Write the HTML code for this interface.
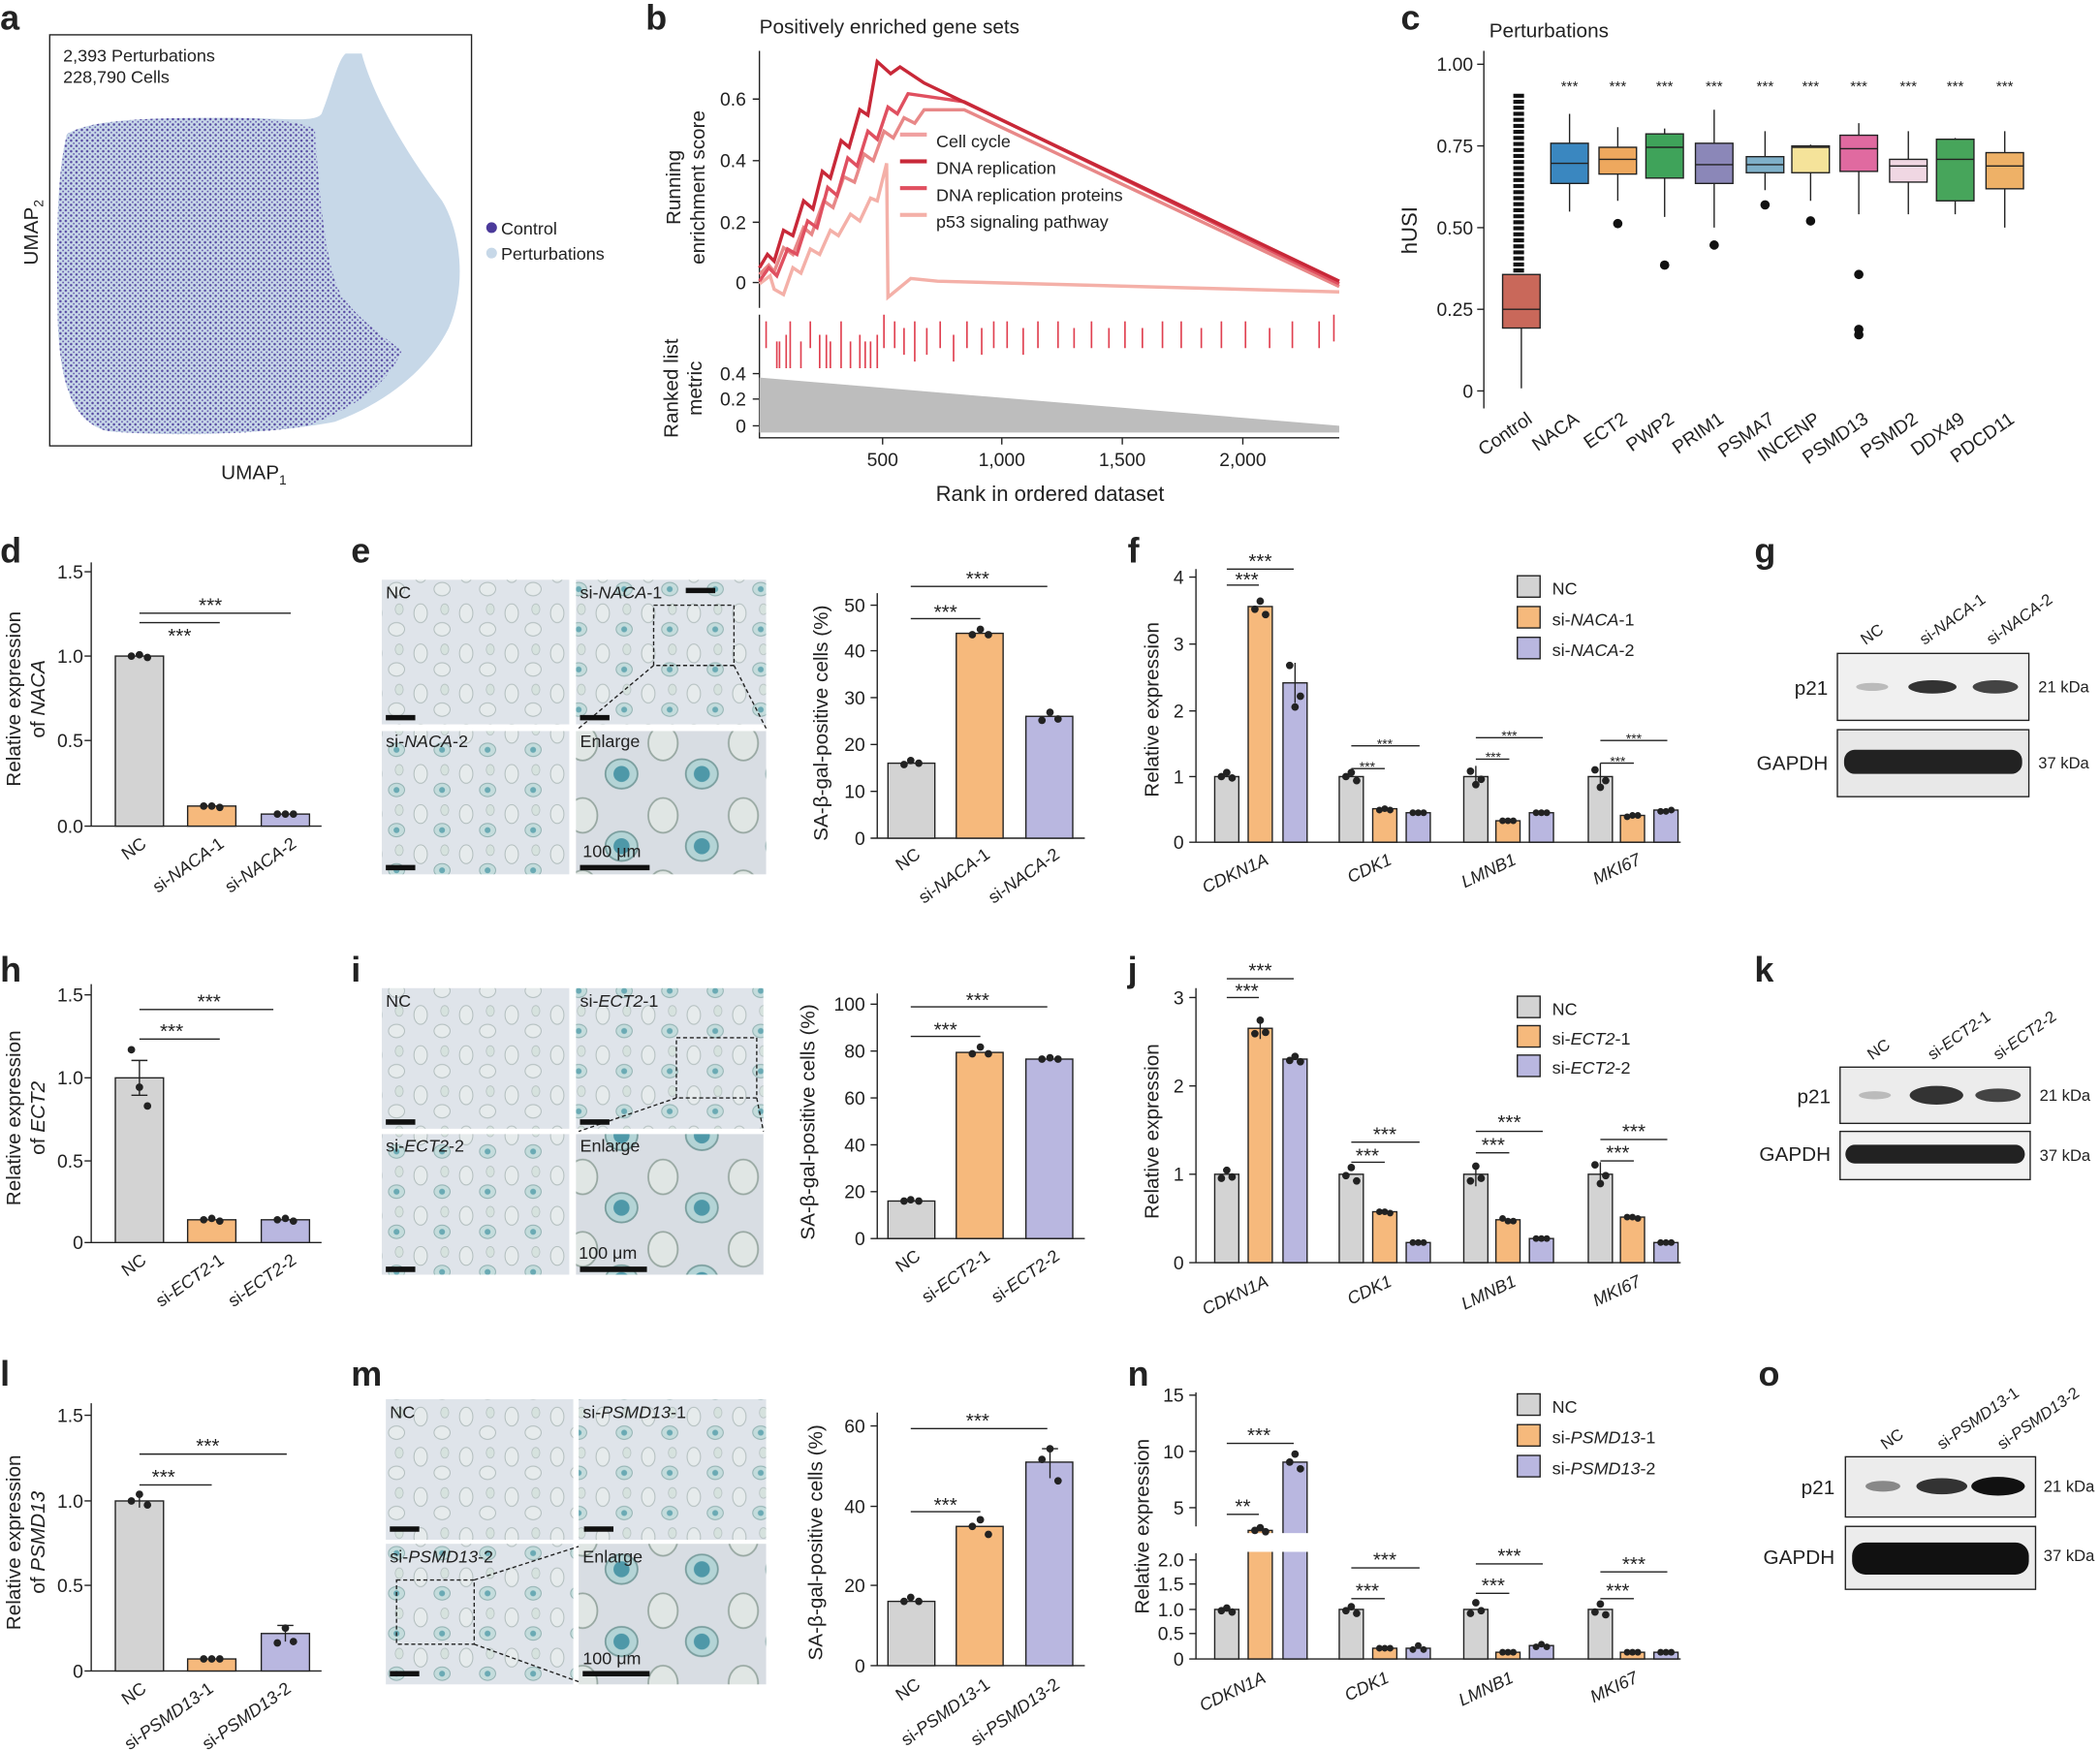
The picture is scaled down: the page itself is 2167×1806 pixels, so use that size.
<!DOCTYPE html>
<html><head><meta charset="utf-8"><style>html,body{margin:0;padding:0;background:#fff}svg{display:block}text{font-family:"Liberation Sans",sans-serif;fill:#222}</style></head><body>
<svg width="2167" height="1806" viewBox="0 0 1568 1307" xmlns="http://www.w3.org/2000/svg">
<defs>
<pattern id="dots" width="4" height="4" patternUnits="userSpaceOnUse"><circle cx="1" cy="1" r="0.9" fill="#4b3a9a"/><circle cx="3" cy="3" r="0.7" fill="#5a4aa8"/></pattern>
<pattern id="cells" width="34" height="30" patternUnits="userSpaceOnUse"><rect width="34" height="30" fill="#dfe4ea"/><ellipse cx="8" cy="8" rx="5" ry="7" fill="#e6ebec" stroke="#b0bcbc" stroke-width="0.7"/><ellipse cx="24" cy="20" rx="6" ry="5" fill="#e6ebec" stroke="#b0bcbc" stroke-width="0.7"/><ellipse cx="26" cy="5" rx="3" ry="4" fill="#d6e2de" stroke="#b0bcbc" stroke-width="0.5"/></pattern>
<pattern id="cellsb" width="34" height="30" patternUnits="userSpaceOnUse"><rect width="34" height="30" fill="#dfe4ea"/><ellipse cx="8" cy="8" rx="5" ry="7" fill="#e6ebec" stroke="#b0bcbc" stroke-width="0.7"/><ellipse cx="24" cy="20" rx="6" ry="5" fill="#c4dcdc" stroke="#90b0b0" stroke-width="0.7"/><circle cx="24" cy="20" r="2.2" fill="#6aaab4"/><ellipse cx="26" cy="5" rx="3" ry="4" fill="#d6e2de" stroke="#b0bcbc" stroke-width="0.5"/></pattern>
<pattern id="cellsE" width="60" height="54" patternUnits="userSpaceOnUse"><rect width="60" height="54" fill="#d8dde3"/><ellipse cx="15" cy="15" rx="11" ry="13" fill="#e0e6e4" stroke="#98a8a2" stroke-width="1.3"/><ellipse cx="44" cy="38" rx="12" ry="11" fill="#b4d4d6" stroke="#7a9e9e" stroke-width="1.3"/><circle cx="44" cy="38" r="6" fill="#4e98a8"/></pattern>
</defs>
<g font-size="14">
<!-- a -->
<text x="0" y="22" font-size="26" font-weight="bold">a</text>
<rect x="37" y="26" width="315" height="307" fill="none" stroke="#222"/>
<path d="M50,100 C70,88 120,88 170,88 C210,88 235,92 240,85 C248,65 252,45 258,40 L270,40 C278,70 300,110 330,150 C345,175 348,215 335,245 C320,275 290,300 250,315 C200,325 120,326 80,322 C55,315 45,290 43,240 C42,180 42,130 50,100Z" fill="#c7d8e8"/>
<path d="M50,100 C70,88 120,88 170,88 C205,88 225,92 235,96 C238,140 242,190 252,215 C262,235 285,250 300,262 C288,290 262,305 230,318 C190,325 120,326 80,322 C55,315 45,290 43,240 C42,180 42,130 50,100Z" fill="url(#dots)" opacity="0.9"/>
<text x="47" y="46" font-size="13">2,393 Perturbations</text>
<text x="47" y="62" font-size="13">228,790 Cells</text>
<text x="28" y="198" font-size="15" transform="rotate(-90 28 198)">UMAP<tspan font-size="10" dy="4">2</tspan></text>
<text x="165" y="358" font-size="15">UMAP<tspan font-size="10" dy="4">1</tspan></text>
<circle cx="367" cy="170" r="4" fill="#4b3a9a"/><text x="374" y="175" font-size="13">Control</text>
<circle cx="367" cy="189" r="4" fill="#c7d8e8"/><text x="374" y="194" font-size="13">Perturbations</text>
<!-- b -->
<text x="482" y="22" font-size="26" font-weight="bold">b</text>
<text x="567" y="25" font-size="15">Positively enriched gene sets</text>
<path d="M567,38V230M567,235V327H1000M659,327v5M748,327v5M838,327v5M928,327v5M562,211h5M562,166h5M562,120h5M562,74h5M562,279h5M562,298h5M562,318h5" stroke="#222" fill="none"/>
<text x="557" y="216" text-anchor="end">0</text><text x="557" y="171" text-anchor="end">0.2</text><text x="557" y="125" text-anchor="end">0.4</text><text x="557" y="79" text-anchor="end">0.6</text>
<text x="557" y="284" text-anchor="end">0.4</text><text x="557" y="303" text-anchor="end">0.2</text><text x="557" y="323" text-anchor="end">0</text>
<text x="659" y="348" text-anchor="middle">500</text><text x="748" y="348" text-anchor="middle">1,000</text><text x="838" y="348" text-anchor="middle">1,500</text><text x="928" y="348" text-anchor="middle">2,000</text>
<text x="784" y="374" text-anchor="middle" font-size="16">Rank in ordered dataset</text>
<text x="508" y="140" text-anchor="middle" font-size="15" transform="rotate(-90 508 140)">Running</text>
<text x="526" y="140" text-anchor="middle" font-size="15" transform="rotate(-90 526 140)">enrichment score</text>
<text x="506" y="290" text-anchor="middle" font-size="15" transform="rotate(-90 506 290)">Ranked list</text>
<text x="524" y="290" text-anchor="middle" font-size="15" transform="rotate(-90 524 290)">metric</text>
<path d="M567,282 L1000,318 L1000,323 L567,323Z" fill="#bdbdbd"/>
<polyline points="567,212 575,206 578,216 585,220 592,200 598,204 605,186 612,190 620,172 626,176 635,160 642,165 650,148 655,150 662,122 663,222 680,208 700,210 1000,218" fill="none" stroke="#f4b0a8" stroke-width="2.5"/>
<polyline points="567,205 574,198 578,203 585,185 592,190 600,170 606,175 615,150 622,155 630,132 638,136 645,115 652,120 660,98 667,103 675,88 683,92 690,82 720,82 1000,214" fill="none" stroke="#e88888" stroke-width="2.5"/>
<polyline points="567,210 574,200 580,206 588,186 595,190 603,165 610,170 618,140 625,146 633,118 640,124 648,98 655,104 663,80 670,85 678,70 720,76 1000,212" fill="none" stroke="#e05060" stroke-width="2.5"/>
<polyline points="567,200 573,190 578,195 585,172 592,176 600,150 607,156 614,128 620,133 628,105 634,110 642,82 648,86 655,46 665,55 672,50 690,62 1000,210" fill="none" stroke="#c82838" stroke-width="2.5"/>
<path d="M572,240v20M580,255v20M590,240v35M598,255v20M605,240v20M612,250v25M620,255v20M628,240v35M635,255v20M642,250v25M650,255v20M660,235v25M668,240v20M675,245v20M683,240v30M692,245v20M702,240v20M712,250v20M722,240v20M733,245v20M742,240v20M752,240v20M764,245v20M775,240v20M790,240v20M802,245v15M815,240v20M828,245v15M840,240v20M853,245v15M868,240v20M882,240v20M897,245v15M912,240v20M930,240v20M948,245v15M965,240v20M985,240v20M996,235v20M582,255v20M587,250v25M617,250v25M646,255v20M655,250v25" stroke="#e04050" stroke-width="1.2"/>
<rect x="672" y="99" width="20" height="3" fill="#f0a0a0"/><text x="699" y="110" font-size="13">Cell cycle</text>
<rect x="672" y="119" width="20" height="3" fill="#c82838"/><text x="699" y="130" font-size="13">DNA replication</text>
<rect x="672" y="139" width="20" height="3" fill="#e05060"/><text x="699" y="150" font-size="13">DNA replication proteins</text>
<rect x="672" y="159" width="20" height="3" fill="#f4b0a8"/><text x="699" y="170" font-size="13">p53 signaling pathway</text>
<!-- c -->
<text x="1046" y="22" font-size="26" font-weight="bold">c</text>
<text x="1112" y="28" font-size="15">Perturbations</text>
<path d="M1108,38V305M1103,48h5M1103,109h5M1103,170h5M1103,231h5M1103,292h5" stroke="#222"/>
<text x="1100" y="53" text-anchor="end">1.00</text><text x="1100" y="114" text-anchor="end">0.75</text><text x="1100" y="175" text-anchor="end">0.50</text><text x="1100" y="236" text-anchor="end">0.25</text><text x="1100" y="297" text-anchor="end">0</text>
<text x="1058" y="172" text-anchor="middle" font-size="16" transform="rotate(-90 1058 172)">hUSI</text>
<path d="M1134,70 L1134,205" stroke="#111" stroke-width="8" stroke-dasharray="3 1.5"/>
<rect x="1122" y="205" width="28" height="40" fill="#c9685a" stroke="#222"/><path d="M1122,231h28M1136,245V290" stroke="#222"/>
<g stroke="#222">
<rect x="1158" y="107" width="28" height="30" fill="#3a87c0"/><path d="M1158,122h28M1172,107V85M1172,137V158"/>
<rect x="1194" y="110" width="28" height="20" fill="#eea85e"/><path d="M1194,119h28M1208,110V95M1208,130V150"/>
<rect x="1229" y="100" width="28" height="33" fill="#3fa35a"/><path d="M1229,110h28M1243,100V96M1243,133V162"/>
<rect x="1266" y="107" width="28" height="30" fill="#8b87b8"/><path d="M1266,123h28M1280,107V82M1280,137V170"/>
<rect x="1304" y="117" width="28" height="12" fill="#7fb0c9"/><path d="M1304,123h28M1318,117V98M1318,129V142"/>
<rect x="1338" y="109" width="28" height="20" fill="#f5e39a"/><path d="M1338,110h28M1352,109V108M1352,129V150"/>
<rect x="1374" y="101" width="28" height="27" fill="#e06aa0"/><path d="M1374,111h28M1388,101V92M1388,128V160"/>
<rect x="1411" y="119" width="28" height="17" fill="#f0d7e3"/><path d="M1411,124h28M1425,119V98M1425,136V160"/>
<rect x="1446" y="104" width="28" height="46" fill="#47a55b"/><path d="M1446,119h28M1460,104V103M1460,150V160"/>
<rect x="1483" y="114" width="28" height="27" fill="#eeb167"/><path d="M1483,124h28M1497,114V98M1497,141V170"/>
</g>
<g fill="#111"><circle cx="1208" cy="167" r="3.5"/><circle cx="1243" cy="198" r="3.5"/><circle cx="1280" cy="183" r="3.5"/><circle cx="1318" cy="153" r="3.5"/><circle cx="1352" cy="165" r="3.5"/><circle cx="1388" cy="205" r="3.5"/><circle cx="1388" cy="246" r="3.5"/><circle cx="1388" cy="250" r="3.5"/></g>
<g font-size="11" text-anchor="middle"><text x="1172" y="68">***</text><text x="1208" y="68">***</text><text x="1243" y="68">***</text><text x="1280" y="68">***</text><text x="1318" y="68">***</text><text x="1352" y="68">***</text><text x="1388" y="68">***</text><text x="1425" y="68">***</text><text x="1460" y="68">***</text><text x="1497" y="68">***</text></g>
<g font-size="14" text-anchor="end"><text transform="translate(1145,315) rotate(-35)">Control</text><text transform="translate(1180,315) rotate(-35)">NACA</text><text transform="translate(1216,315) rotate(-35)">ECT2</text><text transform="translate(1251,315) rotate(-35)">PWP2</text><text transform="translate(1288,315) rotate(-35)">PRIM1</text><text transform="translate(1326,315) rotate(-35)">PSMA7</text><text transform="translate(1360,315) rotate(-35)">INCENP</text><text transform="translate(1396,315) rotate(-35)">PSMD13</text><text transform="translate(1433,315) rotate(-35)">PSMD2</text><text transform="translate(1468,315) rotate(-35)">DDX49</text><text transform="translate(1505,315) rotate(-35)">PDCD11</text></g>

<!-- Row 1 -->
<text x="0" y="420" font-size="26" font-weight="bold">d</text>
<path d="M68,420V617H240M63,427h5M63,490h5M63,553h5M63,617h5" stroke="#222" fill="none"/>
<text x="62" y="432" text-anchor="end">1.5</text><text x="62" y="495" text-anchor="end">1.0</text><text x="62" y="558" text-anchor="end">0.5</text><text x="62" y="622" text-anchor="end">0.0</text>
<text x="15" y="522" text-anchor="middle" font-size="15" transform="rotate(-90 15 522)">Relative expression</text>
<text x="33" y="522" text-anchor="middle" font-size="15" transform="rotate(-90 33 522)">of <tspan font-style="italic">NACA</tspan></text>
<g stroke="#222"><rect x="86" y="490" width="36" height="127" fill="#d3d3d3"/><rect x="140" y="602" width="36" height="15" fill="#f6b97c"/><rect x="195" y="608" width="36" height="9" fill="#b9b7e0"/><path d="M104,465h60M104,458h113"/></g>
<g fill="#222"><circle cx="98" cy="490" r="2.8"/><circle cx="104" cy="489" r="2.8"/><circle cx="110" cy="491" r="2.8"/><circle cx="152" cy="602" r="2.8"/><circle cx="158" cy="602" r="2.8"/><circle cx="164" cy="603" r="2.8"/><circle cx="207" cy="608" r="2.8"/><circle cx="213" cy="608" r="2.8"/><circle cx="219" cy="608" r="2.8"/></g>
<text x="134" y="480" text-anchor="middle" font-size="15">***</text><text x="157" y="457" text-anchor="middle" font-size="15">***</text>
<g font-size="13" text-anchor="end"><text transform="translate(110,632) rotate(-35)">NC</text><text transform="translate(168,632) rotate(-35)">si-<tspan font-style="italic">NACA</tspan>-1</text><text transform="translate(222,632) rotate(-35)">si-<tspan font-style="italic">NACA</tspan>-2</text></g>

<text x="262" y="420" font-size="26" font-weight="bold">e</text>
<rect x="285" y="433" width="140" height="108" fill="url(#cells)"/><rect x="430" y="433" width="142" height="108" fill="url(#cellsb)"/>
<rect x="285" y="546" width="140" height="107" fill="url(#cellsb)"/><rect x="430" y="546" width="142" height="107" fill="url(#cellsE)"/>
<rect x="488" y="452" width="60" height="45" fill="none" stroke="#222" stroke-dasharray="3 2"/><path d="M488,497L432,544M548,497L572,544" stroke="#222" stroke-dasharray="3 2"/>
<text x="288" y="447" font-size="13">NC</text><text x="433" y="447" font-size="13">si-<tspan font-style="italic">NACA</tspan>-1</text><text x="288" y="558" font-size="13">si-<tspan font-style="italic">NACA</tspan>-2</text><text x="433" y="558" font-size="13">Enlarge</text><text x="435" y="640" font-size="13">100 μm</text>
<path d="M288,536h22M433,536h22M288,648h22M433,648h52M512,441h22" stroke="#111" stroke-width="4"/>
<path d="M655,443V626H810M650,452h5M650,486h5M650,521h5M650,556h5M650,591h5M650,626h5" stroke="#222" fill="none"/>
<text x="646" y="457" text-anchor="end">50</text><text x="646" y="491" text-anchor="end">40</text><text x="646" y="526" text-anchor="end">30</text><text x="646" y="561" text-anchor="end">20</text><text x="646" y="596" text-anchor="end">10</text><text x="646" y="631" text-anchor="end">0</text>
<text x="618" y="540" text-anchor="middle" font-size="15" transform="rotate(-90 618 540)">SA-β-gal-positive cells (%)</text>
<g stroke="#222"><rect x="663" y="570" width="35" height="56" fill="#d3d3d3"/><rect x="714" y="473" width="35" height="153" fill="#f6b97c"/><rect x="766" y="535" width="35" height="91" fill="#b9b7e0"/><path d="M680,462h52M680,438h102"/></g>
<text x="706" y="462" text-anchor="middle" font-size="15">***</text><text x="730" y="437" text-anchor="middle" font-size="15">***</text>
<g fill="#222"><circle cx="675" cy="571" r="2.8"/><circle cx="680" cy="568" r="2.8"/><circle cx="686" cy="570" r="2.8"/><circle cx="726" cy="474" r="2.8"/><circle cx="732" cy="470" r="2.8"/><circle cx="738" cy="474" r="2.8"/><circle cx="778" cy="538" r="2.8"/><circle cx="784" cy="532" r="2.8"/><circle cx="790" cy="537" r="2.8"/></g>
<g font-size="13" text-anchor="end"><text transform="translate(688,640) rotate(-35)">NC</text><text transform="translate(740,640) rotate(-35)">si-<tspan font-style="italic">NACA</tspan>-1</text><text transform="translate(792,640) rotate(-35)">si-<tspan font-style="italic">NACA</tspan>-2</text></g>

<text x="842" y="420" font-size="26" font-weight="bold">f</text>
<path d="M893,425V629H1255M888,431h5M888,481h5M888,531h5M888,580h5M888,629h5" stroke="#222" fill="none"/>
<text x="884" y="436" text-anchor="end">4</text><text x="884" y="486" text-anchor="end">3</text><text x="884" y="536" text-anchor="end">2</text><text x="884" y="585" text-anchor="end">1</text><text x="884" y="634" text-anchor="end">0</text>
<text x="865" y="530" text-anchor="middle" font-size="15" transform="rotate(-90 865 530)">Relative expression</text>
<g stroke="#222">
<rect x="907" y="580" width="18" height="49" fill="#d3d3d3"/><rect x="932" y="453" width="18" height="176" fill="#f6b97c"/><rect x="958" y="510" width="18" height="119" fill="#b9b7e0"/>
<rect x="1000" y="580" width="18" height="49" fill="#d3d3d3"/><rect x="1025" y="604" width="18" height="25" fill="#f6b97c"/><rect x="1050" y="607" width="18" height="22" fill="#b9b7e0"/>
<rect x="1093" y="580" width="18" height="49" fill="#d3d3d3"/><rect x="1117" y="613" width="18" height="16" fill="#f6b97c"/><rect x="1142" y="607" width="18" height="22" fill="#b9b7e0"/>
<rect x="1186" y="580" width="18" height="49" fill="#d3d3d3"/><rect x="1210" y="609" width="18" height="20" fill="#f6b97c"/><rect x="1235" y="605" width="18" height="24" fill="#b9b7e0"/>
<path d="M916,437h24M916,425h50M1009,574h25M1009,557h51M1102,567h25M1102,551h50M1195,570h25M1195,553h50M967,495v30M1102,572v16M1195,570v20"/>
</g>
<g fill="#222"><circle cx="912" cy="580" r="2.8"/><circle cx="916" cy="577" r="2.8"/><circle cx="920" cy="581" r="2.8"/><circle cx="937" cy="455" r="2.8"/><circle cx="941" cy="449" r="2.8"/><circle cx="945" cy="459" r="2.8"/><circle cx="963" cy="497" r="2.8"/><circle cx="967" cy="528" r="2.8"/><circle cx="971" cy="520" r="2.8"/><circle cx="1005" cy="580" r="2.8"/><circle cx="1009" cy="577" r="2.8"/><circle cx="1013" cy="583" r="2.8"/><circle cx="1098" cy="576" r="2.8"/><circle cx="1102" cy="586" r="2.8"/><circle cx="1106" cy="582" r="2.8"/><circle cx="1191" cy="575" r="2.8"/><circle cx="1195" cy="588" r="2.8"/><circle cx="1199" cy="583" r="2.8"/><circle cx="1030" cy="605" r="2.5"/><circle cx="1034" cy="604" r="2.5"/><circle cx="1038" cy="605" r="2.5"/><circle cx="1055" cy="607" r="2.5"/><circle cx="1059" cy="607" r="2.5"/><circle cx="1063" cy="607" r="2.5"/><circle cx="1122" cy="613" r="2.5"/><circle cx="1126" cy="613" r="2.5"/><circle cx="1130" cy="613" r="2.5"/><circle cx="1147" cy="607" r="2.5"/><circle cx="1151" cy="607" r="2.5"/><circle cx="1155" cy="607" r="2.5"/><circle cx="1215" cy="610" r="2.5"/><circle cx="1219" cy="609" r="2.5"/><circle cx="1223" cy="609" r="2.5"/><circle cx="1240" cy="606" r="2.5"/><circle cx="1244" cy="606" r="2.5"/><circle cx="1248" cy="605" r="2.5"/></g>
<g text-anchor="middle" font-size="15"><text x="931" y="438">***</text><text x="941" y="424">***</text></g>
<g text-anchor="middle" font-size="10"><text x="1021" y="576">***</text><text x="1034" y="559">***</text><text x="1115" y="569">***</text><text x="1127" y="553">***</text><text x="1208" y="572">***</text><text x="1220" y="555">***</text></g>
<g font-size="13" text-anchor="end" font-style="italic"><text transform="translate(948,645) rotate(-25)">CDKN1A</text><text transform="translate(1040,645) rotate(-25)">CDK1</text><text transform="translate(1133,645) rotate(-25)">LMNB1</text><text transform="translate(1226,645) rotate(-25)">MKI67</text></g>
<rect x="1133" y="430" width="17" height="16" fill="#d3d3d3" stroke="#222"/><text x="1159" y="444" font-size="13">NC</text>
<rect x="1133" y="453" width="17" height="16" fill="#f6b97c" stroke="#222"/><text x="1159" y="467" font-size="13">si-<tspan font-style="italic">NACA</tspan>-1</text>
<rect x="1133" y="476" width="17" height="16" fill="#b9b7e0" stroke="#222"/><text x="1159" y="490" font-size="13">si-<tspan font-style="italic">NACA</tspan>-2</text>

<text x="1310" y="420" font-size="26" font-weight="bold">g</text>
<g font-size="12" text-anchor="start"><text transform="translate(1393,482) rotate(-35)">NC</text><text transform="translate(1437,482) rotate(-35)">si-<tspan font-style="italic">NACA</tspan>-1</text><text transform="translate(1487,482) rotate(-35)">si-<tspan font-style="italic">NACA</tspan>-2</text></g>
<rect x="1372" y="488" width="143" height="50" fill="#f0f0f0" stroke="#222"/><rect x="1372" y="545" width="143" height="50" fill="#e8e8e8" stroke="#222"/>
<ellipse cx="1398" cy="513" rx="12" ry="3" fill="#bbb"/><ellipse cx="1443" cy="513" rx="18" ry="5" fill="#333"/><ellipse cx="1490" cy="513" rx="17" ry="5" fill="#444"/>
<rect x="1377" y="560" width="133" height="18" rx="8" fill="#222"/>
<text x="1365" y="519" text-anchor="end" font-size="15">p21</text><text x="1365" y="575" text-anchor="end" font-size="15">GAPDH</text>
<text x="1522" y="517" font-size="12">21 kDa</text><text x="1522" y="574" font-size="12">37 kDa</text>

<!-- Row 2 -->
<text x="0" y="733" font-size="26" font-weight="bold">h</text>
<path d="M68,735V928H240M63,743h5M63,805h5M63,867h5M63,928h5" stroke="#222" fill="none"/>
<text x="62" y="748" text-anchor="end">1.5</text><text x="62" y="810" text-anchor="end">1.0</text><text x="62" y="872" text-anchor="end">0.5</text><text x="62" y="933" text-anchor="end">0</text>
<text x="15" y="835" text-anchor="middle" font-size="15" transform="rotate(-90 15 835)">Relative expression</text>
<text x="33" y="835" text-anchor="middle" font-size="15" transform="rotate(-90 33 835)">of <tspan font-style="italic">ECT2</tspan></text>
<g stroke="#222"><rect x="86" y="805" width="36" height="123" fill="#d3d3d3"/><rect x="140" y="911" width="36" height="17" fill="#f6b97c"/><rect x="195" y="911" width="36" height="17" fill="#b9b7e0"/><path d="M104,776h60M104,754h100M104,792v26M98,792h12M98,818h12"/></g>
<g fill="#222"><circle cx="98" cy="784" r="2.8"/><circle cx="104" cy="812" r="2.8"/><circle cx="110" cy="826" r="2.8"/><circle cx="152" cy="911" r="2.8"/><circle cx="158" cy="910" r="2.8"/><circle cx="164" cy="912" r="2.8"/><circle cx="207" cy="911" r="2.8"/><circle cx="213" cy="910" r="2.8"/><circle cx="219" cy="912" r="2.8"/></g>
<text x="128" y="775" text-anchor="middle" font-size="15">***</text><text x="156" y="753" text-anchor="middle" font-size="15">***</text>
<g font-size="13" text-anchor="end"><text transform="translate(110,943) rotate(-35)">NC</text><text transform="translate(168,943) rotate(-35)">si-<tspan font-style="italic">ECT2</tspan>-1</text><text transform="translate(222,943) rotate(-35)">si-<tspan font-style="italic">ECT2</tspan>-2</text></g>

<text x="262" y="733" font-size="26" font-weight="bold">i</text>
<rect x="285" y="738" width="140" height="105" fill="url(#cells)"/><rect x="430" y="738" width="140" height="105" fill="url(#cellsb)"/>
<rect x="285" y="847" width="140" height="105" fill="url(#cellsb)"/><rect x="430" y="847" width="140" height="105" fill="url(#cellsE)"/>
<rect x="505" y="775" width="60" height="45" fill="none" stroke="#222" stroke-dasharray="3 2"/><path d="M505,820L432,845M565,820L570,845" stroke="#222" stroke-dasharray="3 2"/>
<text x="288" y="752" font-size="13">NC</text><text x="433" y="752" font-size="13">si-<tspan font-style="italic">ECT2</tspan>-1</text><text x="288" y="860" font-size="13">si-<tspan font-style="italic">ECT2</tspan>-2</text><text x="433" y="860" font-size="13">Enlarge</text><text x="432" y="940" font-size="13">100 μm</text>
<path d="M288,838h22M433,838h22M288,948h22M433,948h50" stroke="#111" stroke-width="4"/>
<path d="M655,742V925H810M650,750h5M650,785h5M650,820h5M650,855h5M650,890h5M650,925h5" stroke="#222" fill="none"/>
<text x="646" y="755" text-anchor="end">100</text><text x="646" y="790" text-anchor="end">80</text><text x="646" y="825" text-anchor="end">60</text><text x="646" y="860" text-anchor="end">40</text><text x="646" y="895" text-anchor="end">20</text><text x="646" y="930" text-anchor="end">0</text>
<text x="608" y="838" text-anchor="middle" font-size="15" transform="rotate(-90 608 838)">SA-β-gal-positive cells (%)</text>
<g stroke="#222"><rect x="663" y="897" width="35" height="28" fill="#d3d3d3"/><rect x="714" y="786" width="35" height="139" fill="#f6b97c"/><rect x="766" y="791" width="35" height="134" fill="#b9b7e0"/><path d="M680,774h52M680,752h102"/></g>
<text x="706" y="774" text-anchor="middle" font-size="15">***</text><text x="730" y="752" text-anchor="middle" font-size="15">***</text>
<g fill="#222"><circle cx="675" cy="897" r="2.8"/><circle cx="680" cy="896" r="2.8"/><circle cx="686" cy="897" r="2.8"/><circle cx="726" cy="787" r="2.8"/><circle cx="732" cy="782" r="2.8"/><circle cx="738" cy="787" r="2.8"/><circle cx="778" cy="791" r="2.8"/><circle cx="784" cy="790" r="2.8"/><circle cx="790" cy="791" r="2.8"/></g>
<g font-size="13" text-anchor="end"><text transform="translate(688,940) rotate(-35)">NC</text><text transform="translate(740,940) rotate(-35)">si-<tspan font-style="italic">ECT2</tspan>-1</text><text transform="translate(792,940) rotate(-35)">si-<tspan font-style="italic">ECT2</tspan>-2</text></g>

<text x="842" y="733" font-size="26" font-weight="bold">j</text>
<path d="M893,738V943H1255M888,745h5M888,811h5M888,877h5M888,943h5" stroke="#222" fill="none"/>
<text x="884" y="750" text-anchor="end">3</text><text x="884" y="816" text-anchor="end">2</text><text x="884" y="882" text-anchor="end">1</text><text x="884" y="948" text-anchor="end">0</text>
<text x="865" y="845" text-anchor="middle" font-size="15" transform="rotate(-90 865 845)">Relative expression</text>
<g stroke="#222">
<rect x="907" y="877" width="18" height="66" fill="#d3d3d3"/><rect x="932" y="768" width="18" height="175" fill="#f6b97c"/><rect x="958" y="791" width="18" height="152" fill="#b9b7e0"/>
<rect x="1000" y="877" width="18" height="66" fill="#d3d3d3"/><rect x="1025" y="905" width="18" height="38" fill="#f6b97c"/><rect x="1050" y="928" width="18" height="15" fill="#b9b7e0"/>
<rect x="1093" y="877" width="18" height="66" fill="#d3d3d3"/><rect x="1117" y="911" width="18" height="32" fill="#f6b97c"/><rect x="1142" y="925" width="18" height="18" fill="#b9b7e0"/>
<rect x="1186" y="877" width="18" height="66" fill="#d3d3d3"/><rect x="1210" y="909" width="18" height="34" fill="#f6b97c"/><rect x="1235" y="928" width="18" height="15" fill="#b9b7e0"/>
<path d="M916,745h24M916,731h50M1009,868h25M1009,853h51M1102,861h25M1102,845h50M1195,867h25M1195,851h50M1102,870v16M1195,868v18M941,760v16"/>
</g>
<g fill="#222"><circle cx="912" cy="880" r="2.8"/><circle cx="916" cy="874" r="2.8"/><circle cx="920" cy="879" r="2.8"/><circle cx="937" cy="772" r="2.8"/><circle cx="941" cy="762" r="2.8"/><circle cx="945" cy="771" r="2.8"/><circle cx="963" cy="792" r="2.8"/><circle cx="967" cy="789" r="2.8"/><circle cx="971" cy="793" r="2.8"/><circle cx="1005" cy="878" r="2.8"/><circle cx="1009" cy="872" r="2.8"/><circle cx="1013" cy="882" r="2.8"/><circle cx="1098" cy="882" r="2.8"/><circle cx="1102" cy="871" r="2.8"/><circle cx="1106" cy="880" r="2.8"/><circle cx="1191" cy="870" r="2.8"/><circle cx="1195" cy="884" r="2.8"/><circle cx="1199" cy="878" r="2.8"/><circle cx="1030" cy="905" r="2.5"/><circle cx="1034" cy="905" r="2.5"/><circle cx="1038" cy="906" r="2.5"/><circle cx="1055" cy="928" r="2.5"/><circle cx="1059" cy="928" r="2.5"/><circle cx="1063" cy="928" r="2.5"/><circle cx="1122" cy="910" r="2.5"/><circle cx="1126" cy="912" r="2.5"/><circle cx="1130" cy="912" r="2.5"/><circle cx="1147" cy="925" r="2.5"/><circle cx="1151" cy="925" r="2.5"/><circle cx="1155" cy="925" r="2.5"/><circle cx="1215" cy="909" r="2.5"/><circle cx="1219" cy="909" r="2.5"/><circle cx="1223" cy="910" r="2.5"/><circle cx="1240" cy="928" r="2.5"/><circle cx="1244" cy="928" r="2.5"/><circle cx="1248" cy="928" r="2.5"/></g>
<g text-anchor="middle" font-size="15"><text x="931" y="745">***</text><text x="941" y="730">***</text><text x="1021" y="868">***</text><text x="1034" y="852">***</text><text x="1115" y="860">***</text><text x="1127" y="843">***</text><text x="1208" y="866">***</text><text x="1220" y="850">***</text></g>
<g font-size="13" text-anchor="end" font-style="italic"><text transform="translate(948,960) rotate(-25)">CDKN1A</text><text transform="translate(1040,960) rotate(-25)">CDK1</text><text transform="translate(1133,960) rotate(-25)">LMNB1</text><text transform="translate(1226,960) rotate(-25)">MKI67</text></g>
<rect x="1133" y="744" width="17" height="16" fill="#d3d3d3" stroke="#222"/><text x="1159" y="758" font-size="13">NC</text>
<rect x="1133" y="766" width="17" height="16" fill="#f6b97c" stroke="#222"/><text x="1159" y="780" font-size="13">si-<tspan font-style="italic">ECT2</tspan>-1</text>
<rect x="1133" y="788" width="17" height="16" fill="#b9b7e0" stroke="#222"/><text x="1159" y="802" font-size="13">si-<tspan font-style="italic">ECT2</tspan>-2</text>

<text x="1310" y="733" font-size="26" font-weight="bold">k</text>
<g font-size="12"><text transform="translate(1398,792) rotate(-35)">NC</text><text transform="translate(1443,792) rotate(-35)">si-<tspan font-style="italic">ECT2</tspan>-1</text><text transform="translate(1492,792) rotate(-35)">si-<tspan font-style="italic">ECT2</tspan>-2</text></g>
<rect x="1374" y="797" width="142" height="42" fill="#ececec" stroke="#222"/><rect x="1374" y="845" width="142" height="36" fill="#f2f2f2" stroke="#222"/>
<ellipse cx="1400" cy="818" rx="12" ry="3" fill="#bbb"/><ellipse cx="1446" cy="818" rx="20" ry="7" fill="#333"/><ellipse cx="1492" cy="818" rx="17" ry="5" fill="#444"/>
<rect x="1378" y="855" width="134" height="14" rx="7" fill="#222"/>
<text x="1367" y="824" text-anchor="end" font-size="15">p21</text><text x="1367" y="867" text-anchor="end" font-size="15">GAPDH</text>
<text x="1523" y="822" font-size="12">21 kDa</text><text x="1523" y="867" font-size="12">37 kDa</text>

<!-- Row 3 -->
<text x="0" y="1035" font-size="26" font-weight="bold">l</text>
<path d="M68,1048V1248H240M63,1057h5M63,1121h5M63,1184h5M63,1248h5" stroke="#222" fill="none"/>
<text x="62" y="1062" text-anchor="end">1.5</text><text x="62" y="1126" text-anchor="end">1.0</text><text x="62" y="1189" text-anchor="end">0.5</text><text x="62" y="1253" text-anchor="end">0</text>
<text x="15" y="1152" text-anchor="middle" font-size="15" transform="rotate(-90 15 1152)">Relative expression</text>
<text x="33" y="1152" text-anchor="middle" font-size="15" transform="rotate(-90 33 1152)">of <tspan font-style="italic">PSMD13</tspan></text>
<g stroke="#222"><rect x="86" y="1121" width="36" height="127" fill="#d3d3d3"/><rect x="140" y="1239" width="36" height="9" fill="#f6b97c"/><rect x="195" y="1220" width="36" height="28" fill="#b9b7e0"/><path d="M104,1109h54M104,1086h110M213,1214v12M207,1214h12M104,1115v11"/></g>
<g fill="#222"><circle cx="98" cy="1121" r="2.8"/><circle cx="104" cy="1116" r="2.8"/><circle cx="110" cy="1124" r="2.8"/><circle cx="152" cy="1239" r="2.8"/><circle cx="158" cy="1239" r="2.8"/><circle cx="164" cy="1239" r="2.8"/><circle cx="207" cy="1227" r="2.8"/><circle cx="213" cy="1216" r="2.8"/><circle cx="219" cy="1226" r="2.8"/></g>
<text x="122" y="1108" text-anchor="middle" font-size="15">***</text><text x="155" y="1085" text-anchor="middle" font-size="15">***</text>
<g font-size="13" text-anchor="end"><text transform="translate(110,1263) rotate(-35)">NC</text><text transform="translate(160,1263) rotate(-35)">si-<tspan font-style="italic">PSMD13</tspan>-1</text><text transform="translate(218,1263) rotate(-35)">si-<tspan font-style="italic">PSMD13</tspan>-2</text></g>

<text x="262" y="1035" font-size="26" font-weight="bold">m</text>
<rect x="288" y="1045" width="140" height="105" fill="url(#cells)"/><rect x="432" y="1045" width="140" height="105" fill="url(#cellsb)"/>
<rect x="288" y="1153" width="140" height="105" fill="url(#cellsb)"/><rect x="432" y="1153" width="140" height="105" fill="url(#cellsE)"/>
<rect x="296" y="1180" width="58" height="48" fill="none" stroke="#222" stroke-dasharray="3 2"/><path d="M354,1180L432,1155M354,1228L432,1256" stroke="#222" stroke-dasharray="3 2"/>
<text x="291" y="1059" font-size="13">NC</text><text x="435" y="1059" font-size="13">si-<tspan font-style="italic">PSMD13</tspan>-1</text><text x="291" y="1167" font-size="13">si-<tspan font-style="italic">PSMD13</tspan>-2</text><text x="435" y="1167" font-size="13">Enlarge</text><text x="435" y="1243" font-size="13">100 μm</text>
<path d="M291,1142h22M436,1142h22M291,1250h22M435,1250h50" stroke="#111" stroke-width="4"/>
<path d="M655,1055V1244H810M650,1065h5M650,1125h5M650,1184h5M650,1244h5" stroke="#222" fill="none"/>
<text x="646" y="1070" text-anchor="end">60</text><text x="646" y="1130" text-anchor="end">40</text><text x="646" y="1189" text-anchor="end">20</text><text x="646" y="1249" text-anchor="end">0</text>
<text x="614" y="1152" text-anchor="middle" font-size="15" transform="rotate(-90 614 1152)">SA-β-gal-positive cells (%)</text>
<g stroke="#222"><rect x="663" y="1196" width="35" height="48" fill="#d3d3d3"/><rect x="714" y="1140" width="35" height="104" fill="#f6b97c"/><rect x="766" y="1092" width="35" height="152" fill="#b9b7e0"/><path d="M680,1129h52M680,1067h102M784,1082v22M778,1082h12"/></g>
<text x="706" y="1129" text-anchor="middle" font-size="15">***</text><text x="730" y="1066" text-anchor="middle" font-size="15">***</text>
<g fill="#222"><circle cx="675" cy="1196" r="2.8"/><circle cx="680" cy="1193" r="2.8"/><circle cx="686" cy="1196" r="2.8"/><circle cx="726" cy="1140" r="2.8"/><circle cx="732" cy="1135" r="2.8"/><circle cx="738" cy="1146" r="2.8"/><circle cx="778" cy="1090" r="2.8"/><circle cx="784" cy="1082" r="2.8"/><circle cx="790" cy="1106" r="2.8"/></g>
<g font-size="13" text-anchor="end"><text transform="translate(688,1260) rotate(-35)">NC</text><text transform="translate(740,1260) rotate(-35)">si-<tspan font-style="italic">PSMD13</tspan>-1</text><text transform="translate(792,1260) rotate(-35)">si-<tspan font-style="italic">PSMD13</tspan>-2</text></g>

<text x="842" y="1035" font-size="26" font-weight="bold">n</text>
<path d="M893,1040V1140M893,1160V1239H1255M888,1042h5M888,1084h5M888,1126h5M888,1165h5M888,1183h5M888,1202h5M888,1220h5M888,1239h5" stroke="#222" fill="none"/>
<text x="884" y="1047" text-anchor="end">15</text><text x="884" y="1089" text-anchor="end">10</text><text x="884" y="1131" text-anchor="end">5</text><text x="884" y="1170" text-anchor="end">2.0</text><text x="884" y="1188" text-anchor="end">1.5</text><text x="884" y="1207" text-anchor="end">1.0</text><text x="884" y="1225" text-anchor="end">0.5</text><text x="884" y="1244" text-anchor="end">0</text>
<text x="858" y="1140" text-anchor="middle" font-size="15" transform="rotate(-90 858 1140)">Relative expression</text>
<g stroke="#222">
<rect x="907" y="1202" width="18" height="37" fill="#d3d3d3"/><rect x="932" y="1143" width="18" height="96" fill="#f6b97c"/><rect x="958" y="1092" width="18" height="147" fill="#b9b7e0"/>
<rect x="1000" y="1202" width="18" height="37" fill="#d3d3d3"/><rect x="1025" y="1231" width="18" height="8" fill="#f6b97c"/><rect x="1050" y="1231" width="18" height="8" fill="#b9b7e0"/>
<rect x="1093" y="1202" width="18" height="37" fill="#d3d3d3"/><rect x="1117" y="1234" width="18" height="5" fill="#f6b97c"/><rect x="1142" y="1229" width="18" height="10" fill="#b9b7e0"/>
<rect x="1186" y="1202" width="18" height="37" fill="#d3d3d3"/><rect x="1210" y="1234" width="18" height="5" fill="#f6b97c"/><rect x="1235" y="1234" width="18" height="5" fill="#b9b7e0"/>
<path d="M916,1131h24M916,1078h50M1009,1194h25M1009,1171h51M1102,1190h25M1102,1168h50M1195,1194h25M1195,1174h50"/>
</g>
<rect x="926" y="1145" width="60" height="14" fill="#fff"/>
<g fill="#222"><circle cx="912" cy="1203" r="2.8"/><circle cx="916" cy="1201" r="2.8"/><circle cx="920" cy="1204" r="2.8"/><circle cx="937" cy="1143" r="2.8"/><circle cx="941" cy="1141" r="2.8"/><circle cx="945" cy="1144" r="2.8"/><circle cx="963" cy="1092" r="2.8"/><circle cx="967" cy="1086" r="2.8"/><circle cx="971" cy="1097" r="2.8"/><circle cx="1005" cy="1203" r="2.8"/><circle cx="1009" cy="1200" r="2.8"/><circle cx="1013" cy="1205" r="2.8"/><circle cx="1098" cy="1205" r="2.8"/><circle cx="1102" cy="1197" r="2.8"/><circle cx="1106" cy="1203" r="2.8"/><circle cx="1191" cy="1204" r="2.8"/><circle cx="1195" cy="1198" r="2.8"/><circle cx="1199" cy="1206" r="2.8"/><circle cx="1030" cy="1231" r="2.5"/><circle cx="1034" cy="1231" r="2.5"/><circle cx="1038" cy="1231" r="2.5"/><circle cx="1055" cy="1232" r="2.5"/><circle cx="1059" cy="1229" r="2.5"/><circle cx="1063" cy="1232" r="2.5"/><circle cx="1122" cy="1234" r="2.5"/><circle cx="1126" cy="1234" r="2.5"/><circle cx="1130" cy="1234" r="2.5"/><circle cx="1147" cy="1230" r="2.5"/><circle cx="1151" cy="1228" r="2.5"/><circle cx="1155" cy="1230" r="2.5"/><circle cx="1215" cy="1234" r="2.5"/><circle cx="1219" cy="1234" r="2.5"/><circle cx="1223" cy="1234" r="2.5"/><circle cx="1240" cy="1234" r="2.5"/><circle cx="1244" cy="1234" r="2.5"/><circle cx="1248" cy="1234" r="2.5"/></g>
<g text-anchor="middle" font-size="15"><text x="928" y="1130">**</text><text x="940" y="1077">***</text><text x="1021" y="1193">***</text><text x="1034" y="1170">***</text><text x="1115" y="1189">***</text><text x="1127" y="1167">***</text><text x="1208" y="1193">***</text><text x="1220" y="1173">***</text></g>
<g font-size="13" text-anchor="end" font-style="italic"><text transform="translate(946,1256) rotate(-25)">CDKN1A</text><text transform="translate(1038,1256) rotate(-25)">CDK1</text><text transform="translate(1131,1256) rotate(-25)">LMNB1</text><text transform="translate(1224,1256) rotate(-25)">MKI67</text></g>
<rect x="1133" y="1041" width="17" height="16" fill="#d3d3d3" stroke="#222"/><text x="1159" y="1055" font-size="13">NC</text>
<rect x="1133" y="1064" width="17" height="16" fill="#f6b97c" stroke="#222"/><text x="1159" y="1078" font-size="13">si-<tspan font-style="italic">PSMD13</tspan>-1</text>
<rect x="1133" y="1087" width="17" height="16" fill="#b9b7e0" stroke="#222"/><text x="1159" y="1101" font-size="13">si-<tspan font-style="italic">PSMD13</tspan>-2</text>

<text x="1313" y="1035" font-size="26" font-weight="bold">o</text>
<g font-size="12"><text transform="translate(1408,1083) rotate(-35)">NC</text><text transform="translate(1450,1083) rotate(-35)">si-<tspan font-style="italic">PSMD13</tspan>-1</text><text transform="translate(1495,1083) rotate(-35)">si-<tspan font-style="italic">PSMD13</tspan>-2</text></g>
<rect x="1378" y="1088" width="142" height="45" fill="#ececec" stroke="#222"/><rect x="1378" y="1140" width="142" height="47" fill="#ececec" stroke="#222"/>
<ellipse cx="1406" cy="1110" rx="13" ry="4" fill="#888"/><ellipse cx="1450" cy="1110" rx="19" ry="6" fill="#333"/><ellipse cx="1492" cy="1110" rx="20" ry="7" fill="#111"/>
<rect x="1383" y="1152" width="132" height="24" rx="10" fill="#111"/>
<text x="1370" y="1116" text-anchor="end" font-size="15">p21</text><text x="1370" y="1168" text-anchor="end" font-size="15">GAPDH</text>
<text x="1526" y="1114" font-size="12">21 kDa</text><text x="1526" y="1166" font-size="12">37 kDa</text>
</g>
</svg>
</body></html>
